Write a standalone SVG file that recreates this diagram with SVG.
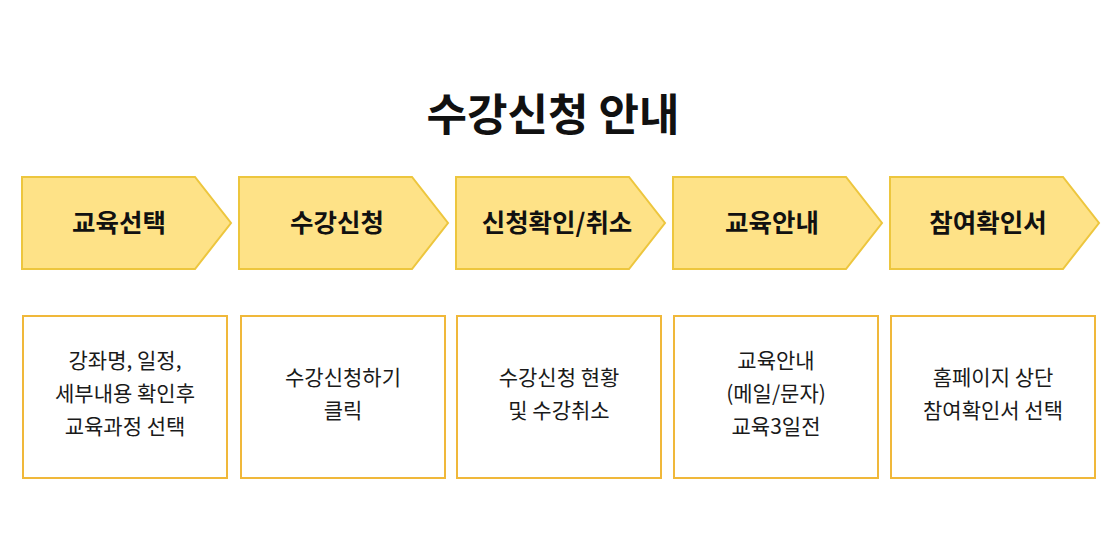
<svg xmlns="http://www.w3.org/2000/svg" width="1120" height="556" viewBox="0 0 1120 556">
<style>
text{font-family:"Noto Sans CJK KR","Noto Sans",sans-serif;fill:#111;text-anchor:middle}
.title{font-size:44px;font-weight:700}
.step{fill:#FEE287;stroke:#EDC63E;stroke-width:2}
.lbl{font-size:25.5px;font-weight:700}
.box{fill:#fff;stroke:#F0B83A;stroke-width:2}
.desc{font-size:21px;fill:#1a1a1a}
</style>
<rect width="1120" height="556" fill="#fff"/>
<text class="title" x="553" y="131">수강신청 안내</text>
<g id="step1"><polygon class="step" points="22,177 195,177 231,223 195,269 22,269"/><text class="lbl" x="119" y="232">교육선택</text></g>
<g id="step2"><polygon class="step" points="239,177 412,177 448,223 412,269 239,269"/><text class="lbl" x="337" y="232">수강신청</text></g>
<g id="step3"><polygon class="step" points="456,177 629,177 665,223 629,269 456,269"/><text class="lbl" x="557" y="232">신청확인/취소</text></g>
<g id="step4"><polygon class="step" points="673,177 846,177 882,223 846,269 673,269"/><text class="lbl" x="772" y="232">교육안내</text></g>
<g id="step5"><polygon class="step" points="890,177 1063,177 1099,223 1063,269 890,269"/><text class="lbl" x="988" y="232">참여확인서</text></g>
<g id="connectors"></g>
<g id="box1"><rect class="box" x="23" y="316" width="204" height="162"/><text class="desc" x="125" y="368">강좌명, 일정,</text><text class="desc" x="125" y="401">세부내용 확인후</text><text class="desc" x="125" y="434">교육과정 선택</text></g>
<g id="box2"><rect class="box" x="241" y="316" width="204" height="162"/><text class="desc" x="343" y="385">수강신청하기</text><text class="desc" x="343" y="418">클릭</text></g>
<g id="box3"><rect class="box" x="457" y="316" width="204" height="162"/><text class="desc" x="559" y="385">수강신청 현황</text><text class="desc" x="559" y="418">및 수강취소</text></g>
<g id="box4"><rect class="box" x="674" y="316" width="204" height="162"/><text class="desc" x="776" y="368">교육안내</text><text class="desc" x="776" y="401">(메일/문자)</text><text class="desc" x="776" y="434">교육3일전</text></g>
<g id="box5"><rect class="box" x="891" y="316" width="204" height="162"/><text class="desc" x="993" y="385">홈페이지 상단</text><text class="desc" x="993" y="418">참여확인서 선택</text></g>
</svg>
